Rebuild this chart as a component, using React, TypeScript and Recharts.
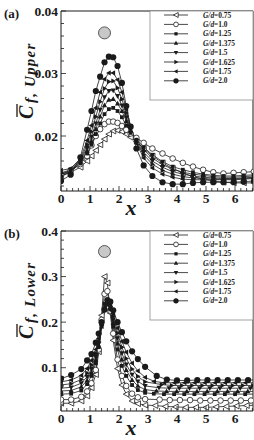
import React from 'react';
import { LineChart, Line, XAxis, YAxis, ReferenceDot } from 'recharts';

// ---- layout ----
const W = 254;
const H = 220;
const PLOT_LEFT = 61;
const PLOT_TOP = 11;
const PLOT_RIGHT = 253;
const X_AXIS_H = 29;
const SERIF = "'Liberation Serif', 'Times New Roman', serif";
const INK = '#1a1a1a';

// ---- series identity ----
const gapRatios = ['0.75', '1.0', '1.25', '1.375', '1.5', '1.625', '1.75', '2.0'];
type MarkerKind = 'leftOpen' | 'circleOpen' | 'square' | 'up' | 'down' | 'right' | 'left' | 'circle';
const markerKinds: MarkerKind[] = ['leftOpen', 'circleOpen', 'square', 'up', 'down', 'right', 'left', 'circle'];

// ---- axis ticks ----
const xTicks = [0, 0.2, 0.4, 0.6, 0.8, 1, 1.2, 1.4, 1.6, 1.8, 2, 2.2, 2.4, 2.6, 2.8, 3, 3.2, 3.4, 3.6, 3.8, 4, 4.2, 4.4, 4.6, 4.8, 5, 5.2, 5.4, 5.6, 5.8, 6, 6.2, 6.4, 6.6];
const upperYTicks = [0.012, 0.014, 0.016, 0.018, 0.02, 0.022, 0.024, 0.026, 0.028, 0.03, 0.032, 0.034, 0.036, 0.038, 0.04];
const lowerYTicks = [0.02, 0.04, 0.06, 0.08, 0.1, 0.12, 0.14, 0.16, 0.18, 0.2, 0.22, 0.24, 0.26, 0.28, 0.3, 0.32, 0.34, 0.36, 0.38, 0.4];

// ---- upper surface friction coefficient ----
const upperX = [0, 0.33, 0.67, 0.9, 1.05, 1.2, 1.35, 1.5, 1.65, 1.8, 1.95, 2.1, 2.25, 2.4, 2.6, 2.85, 3.15, 3.5, 3.85, 4.2, 4.55, 4.9, 5.25, 5.6, 5.95, 6.3, 6.65];
const upperGd075 = [0.0136, 0.0142, 0.0150, 0.0160, 0.0168, 0.0177, 0.0186, 0.0195, 0.0203, 0.0208, 0.0209, 0.0207, 0.0203, 0.0198, 0.0191, 0.0180, 0.0168, 0.0157, 0.0148, 0.0141, 0.0135, 0.0131, 0.0128, 0.0126, 0.0125, 0.0125, 0.0125];
const upperGd100 = [0.0138, 0.0145, 0.0155, 0.0168, 0.0185, 0.0200, 0.0211, 0.0219, 0.0223, 0.0223, 0.0221, 0.0216, 0.0210, 0.0204, 0.0197, 0.0189, 0.0180, 0.0172, 0.0164, 0.0157, 0.0151, 0.0146, 0.0142, 0.0140, 0.0141, 0.0142, 0.0143];
const upperGd125 = [0.0135, 0.0143, 0.0156, 0.0172, 0.0186, 0.0203, 0.0220, 0.0235, 0.0243, 0.0245, 0.0240, 0.0230, 0.0217, 0.0205, 0.0194, 0.0182, 0.0170, 0.0159, 0.0151, 0.0146, 0.0142, 0.0139, 0.0137, 0.0136, 0.0136, 0.0137, 0.0138];
const upperGd1375 = [0.0137, 0.0144, 0.0158, 0.0176, 0.0192, 0.0211, 0.0231, 0.0249, 0.0258, 0.0259, 0.0252, 0.0240, 0.0224, 0.0208, 0.0193, 0.0178, 0.0165, 0.0154, 0.0147, 0.0142, 0.0139, 0.0137, 0.0135, 0.0134, 0.0134, 0.0135, 0.0136];
const upperGd150 = [0.0139, 0.0145, 0.0160, 0.0181, 0.0199, 0.0220, 0.0242, 0.0262, 0.0272, 0.0273, 0.0264, 0.0249, 0.0230, 0.0211, 0.0192, 0.0174, 0.0160, 0.0150, 0.0143, 0.0139, 0.0136, 0.0134, 0.0133, 0.0132, 0.0132, 0.0133, 0.0134];
const upperGd1625 = [0.0141, 0.0146, 0.0162, 0.0186, 0.0207, 0.0231, 0.0255, 0.0276, 0.0287, 0.0288, 0.0277, 0.0259, 0.0237, 0.0213, 0.0190, 0.0170, 0.0155, 0.0145, 0.0139, 0.0135, 0.0133, 0.0132, 0.0131, 0.0131, 0.0131, 0.0132, 0.0133];
const upperGd175 = [0.0145, 0.0148, 0.0164, 0.0193, 0.0217, 0.0245, 0.0270, 0.0291, 0.0301, 0.0301, 0.0290, 0.0270, 0.0243, 0.0215, 0.0188, 0.0165, 0.0149, 0.0139, 0.0134, 0.0131, 0.0130, 0.0130, 0.0130, 0.0130, 0.0130, 0.0131, 0.0132];
const upperGd200 = [0.0128, 0.0138, 0.0166, 0.0210, 0.0240, 0.0272, 0.0295, 0.0318, 0.0327, 0.0326, 0.0312, 0.0285, 0.0248, 0.0215, 0.0180, 0.0153, 0.0136, 0.0126, 0.0123, 0.0123, 0.0125, 0.0126, 0.0126, 0.0126, 0.0126, 0.0127, 0.0128];

// ---- lower surface friction coefficient ----
const lowerX = [0, 0.35, 0.7, 0.9, 1.05, 1.2, 1.3, 1.4, 1.5, 1.6, 1.7, 1.8, 1.95, 2.1, 2.25, 2.45, 2.65, 2.9, 3.2, 3.55, 3.9, 4.25, 4.6, 4.95, 5.3, 5.65, 6.0, 6.35, 6.7];
const lowerGd075 = [0.022, 0.022, 0.027, 0.038, 0.056, 0.085, 0.135, 0.215, 0.300, 0.286, 0.220, 0.160, 0.098, 0.062, 0.042, 0.027, 0.021, 0.018, 0.017, 0.015, 0.014, 0.013, 0.013, 0.013, 0.014, 0.015, 0.016, 0.017, 0.018];
const lowerGd100 = [0.030, 0.030, 0.036, 0.048, 0.066, 0.095, 0.140, 0.205, 0.262, 0.268, 0.225, 0.175, 0.118, 0.082, 0.060, 0.043, 0.035, 0.031, 0.030, 0.029, 0.029, 0.029, 0.028, 0.028, 0.028, 0.028, 0.028, 0.028, 0.028];
const lowerGd125 = [0.042, 0.043, 0.050, 0.064, 0.082, 0.110, 0.145, 0.195, 0.240, 0.250, 0.228, 0.190, 0.140, 0.104, 0.082, 0.062, 0.051, 0.045, 0.043, 0.042, 0.042, 0.042, 0.042, 0.042, 0.042, 0.042, 0.042, 0.042, 0.042];
const lowerGd1375 = [0.049, 0.050, 0.058, 0.072, 0.090, 0.117, 0.148, 0.190, 0.232, 0.245, 0.230, 0.198, 0.153, 0.118, 0.095, 0.073, 0.060, 0.052, 0.049, 0.048, 0.048, 0.048, 0.048, 0.048, 0.048, 0.048, 0.048, 0.048, 0.048];
const lowerGd150 = [0.055, 0.057, 0.066, 0.080, 0.098, 0.124, 0.152, 0.190, 0.228, 0.240, 0.232, 0.206, 0.165, 0.132, 0.107, 0.085, 0.070, 0.060, 0.056, 0.055, 0.055, 0.055, 0.055, 0.055, 0.055, 0.055, 0.055, 0.055, 0.055];
const lowerGd1625 = [0.062, 0.065, 0.074, 0.088, 0.106, 0.131, 0.157, 0.192, 0.226, 0.238, 0.234, 0.213, 0.176, 0.145, 0.120, 0.097, 0.081, 0.069, 0.063, 0.061, 0.061, 0.061, 0.061, 0.061, 0.061, 0.061, 0.061, 0.061, 0.061];
const lowerGd175 = [0.069, 0.073, 0.083, 0.098, 0.116, 0.140, 0.164, 0.196, 0.227, 0.242, 0.238, 0.219, 0.187, 0.158, 0.134, 0.110, 0.093, 0.079, 0.070, 0.067, 0.067, 0.067, 0.067, 0.067, 0.067, 0.067, 0.067, 0.067, 0.067];
const lowerGd200 = [0.076, 0.084, 0.097, 0.116, 0.130, 0.155, 0.175, 0.200, 0.228, 0.248, 0.245, 0.226, 0.200, 0.178, 0.158, 0.136, 0.119, 0.102, 0.082, 0.074, 0.072, 0.072, 0.073, 0.073, 0.073, 0.073, 0.073, 0.073, 0.073];
// downstream samples of each case sit at slightly different stations
const lowerTailStart = 18;
const lowerTailStagger = [0.05, 0.2, 0, 0.09, 0.18, 0.27, 0.01, 0.1];

// cylinder sketch position in each panel
const upperCylinder = { x: 1.5, y: 0.0365 };
const lowerCylinder = { x: 1.5, y: 0.355 };

type Pt = { x: number; y: number };

function buildSeries(xs: number[], ys: number[], stagger = 0, from = Infinity): Pt[] {
  return xs.map((x, i) => ({ x: i >= from ? x + stagger : x, y: ys[i] }));
}

function Marker({ kind, cx, cy, s = 1 }: { kind: MarkerKind; cx: number; cy: number; s?: number }) {
  const sw = 0.8;
  switch (kind) {
    case 'leftOpen':
      return <polygon points={`${cx - 3 * s},${cy} ${cx + 2.6 * s},${cy - 2.9 * s} ${cx + 2.6 * s},${cy + 2.9 * s}`} fill="#fff" stroke={INK} strokeWidth={sw} />;
    case 'circleOpen':
      return <circle cx={cx} cy={cy} r={2.8 * s} fill="#fff" stroke={INK} strokeWidth={sw} />;
    case 'square':
      return <rect x={cx - 1.9 * s} y={cy - 1.9 * s} width={3.8 * s} height={3.8 * s} fill={INK} />;
    case 'up':
      return <polygon points={`${cx},${cy - 2.8 * s} ${cx - 2.6 * s},${cy + 1.9 * s} ${cx + 2.6 * s},${cy + 1.9 * s}`} fill={INK} />;
    case 'down':
      return <polygon points={`${cx},${cy + 2.8 * s} ${cx - 2.6 * s},${cy - 1.9 * s} ${cx + 2.6 * s},${cy - 1.9 * s}`} fill={INK} />;
    case 'right':
      return <polygon points={`${cx + 2.8 * s},${cy} ${cx - 1.9 * s},${cy - 2.6 * s} ${cx - 1.9 * s},${cy + 2.6 * s}`} fill={INK} />;
    case 'left':
      return <polygon points={`${cx - 2.8 * s},${cy} ${cx + 1.9 * s},${cy - 2.6 * s} ${cx + 1.9 * s},${cy + 2.6 * s}`} fill={INK} />;
    default:
      return <circle cx={cx} cy={cy} r={3.1 * s} fill={INK} />;
  }
}

function XTick(props: any) {
  const { x, y, payload } = props;
  const v = payload.value as number;
  const major = Math.abs(v - Math.round(v)) < 1e-6;
  return (
    <g>
      <line x1={x} x2={x} y1={y} y2={y - (major ? 5 : 3)} stroke={INK} strokeWidth={0.8} />
      {major && (
        <text x={x} y={y + 12} textAnchor="middle" fontFamily={SERIF} fontWeight="bold" fontSize={13.5} fill={INK}>
          {Math.round(v)}
        </text>
      )}
    </g>
  );
}

function makeYTick(step: number, digits: number) {
  return function YTick(props: any) {
    const { x, y, payload } = props;
    const v = payload.value as number;
    const r = v / step;
    const major = Math.abs(r - Math.round(r)) < 1e-6;
    return (
      <g>
        <line x1={x} x2={x + (major ? 5 : 3)} y1={y} y2={y} stroke={INK} strokeWidth={0.8} />
        {major && (
          <text x={x - 3} y={y + 4.5} textAnchor="end" fontFamily={SERIF} fontWeight="bold" fontSize={13.5} fill={INK}>
            {v.toFixed(digits)}
          </text>
        )}
      </g>
    );
  };
}

function GapLegend() {
  const left = 150;
  const bottom = 100;
  return (
    <g>
      <rect x={left} y={PLOT_TOP} width={PLOT_RIGHT - left} height={bottom - PLOT_TOP} fill="#fff" stroke="#8c8c8c" strokeWidth={0.8} />
      {gapRatios.map((g, i) => {
        const y = 15 + i * 9.4;
        return (
          <g key={g}>
            <line x1={164} x2={188} y1={y} y2={y} stroke={INK} strokeWidth={0.8} />
            <Marker kind={markerKinds[i]} cx={176} cy={y} s={0.85} />
            <text x={203} y={y + 2.6} fontFamily={SERIF} fontWeight="bold" fontSize={7.4} fill={INK}>
              <tspan fontStyle="italic">G/d</tspan>={g}
            </text>
          </g>
        );
      })}
    </g>
  );
}

function Frame() {
  const bottom = H - X_AXIS_H;
  return (
    <g>
      <line x1={PLOT_LEFT} x2={PLOT_RIGHT} y1={PLOT_TOP} y2={PLOT_TOP} stroke={INK} strokeWidth={1} />
      <line x1={PLOT_RIGHT} x2={PLOT_RIGHT} y1={PLOT_TOP} y2={bottom} stroke={INK} strokeWidth={1} />
    </g>
  );
}

function AxisTitles({ tag, sub }: { tag: string; sub: string }) {
  return (
    <g fontFamily={SERIF} fill={INK}>
      <text x={4} y={18} fontWeight="bold" fontSize={13}>{tag}</text>
      <text x={131} y={215} textAnchor="middle" fontWeight="bold" fontStyle="italic" fontSize={22}>x</text>
      <g transform="translate(33,119) rotate(-90)">
        <text x={0} y={0} fontWeight="bold" fontStyle="italic" fontSize={20}>C</text>
        <line x1={2} x2={15} y1={-16} y2={-16} stroke={INK} strokeWidth={1.3} />
        <text x={16} y={2} fontWeight="bold" fontStyle="italic" fontSize={15} letterSpacing={1.2}>{sub}</text>
      </g>
    </g>
  );
}

type PanelProps = {
  tag: string;
  sub: string;
  series: Pt[][];
  yDomain: [number, number];
  yTicks: number[];
  yStep: number;
  yDigits: number;
  cylinder: { x: number; y: number };
};

function Panel({ tag, sub, series, yDomain, yTicks, yStep, yDigits, cylinder }: PanelProps) {
  const YTick = makeYTick(yStep, yDigits);
  return (
    <LineChart width={W} height={H} margin={{ top: PLOT_TOP, right: W - PLOT_RIGHT, bottom: 0, left: 0 }}>
      <XAxis
        type="number"
        dataKey="x"
        domain={[0, 6.62]}
        allowDataOverflow
        ticks={xTicks}
        interval={0}
        height={X_AXIS_H}
        tickSize={0}
        tickMargin={0}
        tickLine={false}
        tick={<XTick />}
        axisLine={{ stroke: INK, strokeWidth: 1 }}
      />
      <YAxis
        type="number"
        dataKey="y"
        domain={yDomain}
        allowDataOverflow
        ticks={yTicks}
        interval={0}
        width={PLOT_LEFT}
        tickSize={0}
        tickMargin={0}
        tickLine={false}
        tick={<YTick />}
        axisLine={{ stroke: INK, strokeWidth: 1 }}
      />
      {series.map((pts, k) => (
        <Line
          key={gapRatios[k]}
          data={pts}
          dataKey="y"
          type="linear"
          stroke={INK}
          strokeWidth={0.8}
          isAnimationActive={false}
          dot={(p: any) =>
            p.cx == null || p.cy == null ? (
              <g key={`m${k}-${p.index}`} />
            ) : (
              <Marker key={`m${k}-${p.index}`} kind={markerKinds[k]} cx={p.cx} cy={p.cy} />
            )
          }
          activeDot={false}
        />
      ))}
      <ReferenceDot x={cylinder.x} y={cylinder.y} r={6} fill="#c8c8c8" stroke="#333" strokeWidth={0.8} />
      <Frame />
      <GapLegend />
      <AxisTitles tag={tag} sub={sub} />
    </LineChart>
  );
}

export default function App() {
  const upperSeries = [upperGd075, upperGd100, upperGd125, upperGd1375, upperGd150, upperGd1625, upperGd175, upperGd200].map((ys) =>
    buildSeries(upperX, ys)
  );
  const lowerSeries = [lowerGd075, lowerGd100, lowerGd125, lowerGd1375, lowerGd150, lowerGd1625, lowerGd175, lowerGd200].map((ys, k) =>
    buildSeries(lowerX, ys, lowerTailStagger[k], lowerTailStart)
  );
  return (
    <div style={{ position: 'absolute', left: 0, top: 0, width: W, height: 2 * H, background: '#fff' }}>
      <Panel
        tag="(a)"
        sub="f, Upper"
        series={upperSeries}
        yDomain={[0.0112, 0.04]}
        yTicks={upperYTicks}
        yStep={0.01}
        yDigits={2}
        cylinder={upperCylinder}
      />
      <Panel
        tag="(b)"
        sub="f, Lower"
        series={lowerSeries}
        yDomain={[0.005, 0.4]}
        yTicks={lowerYTicks}
        yStep={0.1}
        yDigits={1}
        cylinder={lowerCylinder}
      />
    </div>
  );
}
